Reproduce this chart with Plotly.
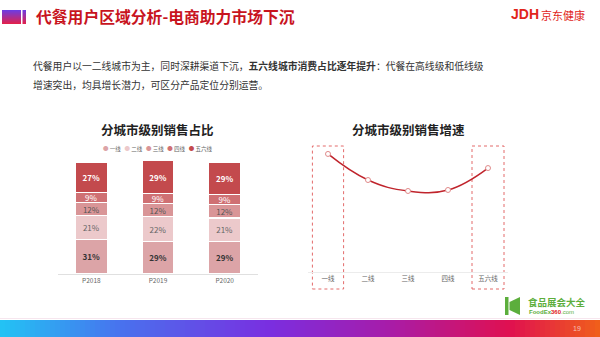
import plotly.graph_objects as go

W, H = 600, 337
FONT = "Noto Sans CJK SC"

# ---------------- data ----------------
years = ["P2018", "P2019", "P2020"]
tiers = ["一线", "二线", "三线", "四线", "五六线"]
share_tier1 = [31, 29, 29]
share_tier2 = [21, 22, 21]
share_tier3 = [12, 12, 12]
share_tier4 = [9, 9, 9]
share_tier56 = [27, 29, 29]
growth = [93.7, 73.0, 64.3, 65.1, 82.5]   # relative growth index (no axis shown)

share_series = [share_tier1, share_tier2, share_tier3, share_tier4, share_tier56]
bar_colors = ["#dca4a7", "#ecc9cb", "#d99597", "#cf7073", "#c34a4d"]
text_colors = ["#333333", "#666666", "#555555", "#ffffff", "#ffffff"]
text_bold = [True, False, False, False, True]


def px(x):
    return x / W


def py(y):
    return 1 - y / H


fig = go.Figure()

# ---------------- stacked bars ----------------
for name, vals, col, tc, b in zip(tiers, share_series, bar_colors, text_colors, text_bold):
    tmpl = "<b>%{y}%</b>" if b else "%{y}%"
    fig.add_trace(go.Bar(
        x=years, y=vals, name=name, marker=dict(color=col, line=dict(color="white", width=1.2)),
        width=0.48, texttemplate=tmpl, textposition="inside", insidetextanchor="middle",
        textangle=0, constraintext="none",
        textfont=dict(size=8, color=tc, family=FONT),
        xaxis="x", yaxis="y", showlegend=False, hoverinfo="skip"))

# connector lines between bars (cumulative tops)
cum = []
running = [0, 0, 0]
for vals in share_series:
    running = [r + v for r, v in zip(running, vals)]
    cum.append(list(running))
for level in cum:
    for i in range(len(years) - 1):
        fig.add_trace(go.Scatter(
            x=[i + 0.24, i + 1 - 0.24], y=[level[i], level[i + 1]], mode="lines",
            line=dict(color="#d0d0d0", width=0.8), xaxis="x", yaxis="y",
            showlegend=False, hoverinfo="skip"))

# ---------------- growth line ----------------
fig.add_trace(go.Scatter(
    x=tiers, y=growth, mode="lines+markers",
    line=dict(color="#c0242c", width=1.5, shape="spline", smoothing=1.2),
    marker=dict(size=5, color="white", line=dict(color="#e08a8a", width=1)),
    xaxis="x2", yaxis="y2", showlegend=False, hoverinfo="skip"))

shapes = []
annotations = []

# dashed highlight boxes on right chart
for c0, c1 in [(-0.39, 0.39), (3.6, 4.4)]:
    shapes.append(dict(type="rect", xref="x2", yref="paper", x0=c0, x1=c1,
                       y0=py(289), y1=py(146),
                       line=dict(color="#e36a6a", width=1, dash="dot"), layer="below"))

# title icon (vertical gradient square) + thin bar
n = 14
def lerp(c0, c1, t):
    return "#%02x%02x%02x" % tuple(int(round(a + (b - a) * t)) for a, b in zip(c0, c1))

top_c, bot_c = (0x6a, 0x3c, 0xe6), (0xe4, 0x20, 0x48)
for k in range(n):
    y0 = 10 + (24 - 10) * k / n
    y1 = 10 + (24 - 10) * (k + 1) / n
    col = lerp(top_c, bot_c, (k + 0.5) / n)
    shapes.append(dict(type="rect", xref="paper", yref="paper", x0=px(2), x1=px(21),
                       y0=py(y1), y1=py(y0), line=dict(width=0), fillcolor=col))
    shapes.append(dict(type="rect", xref="paper", yref="paper", x0=px(22.5), x1=px(26),
                       y0=py(y1), y1=py(y0), line=dict(width=0), fillcolor=col))

# bottom gradient band
stops = [(0.0, (0x22, 0xc4, 0xf4)), (0.2, (0x48, 0x72, 0xee)), (0.45, (0x7a, 0x2e, 0xe0)),
         (0.65, (0xa8, 0x1c, 0xa8)), (0.85, (0xe0, 0x10, 0x50)), (1.0, (0xf0, 0x60, 0x1a))]
def grad(t):
    for (t0, c0), (t1, c1) in zip(stops[:-1], stops[1:]):
        if t <= t1:
            return lerp(c0, c1, (t - t0) / (t1 - t0))
    return lerp(stops[-1][1], stops[-1][1], 0)

N = 120
for k in range(N):
    x0 = W * k / N
    x1 = W * (k + 1) / N + 0.6
    shapes.append(dict(type="rect", xref="paper", yref="paper", x0=px(x0), x1=px(min(x1, W)),
                       y0=0, y1=py(320), line=dict(width=0), fillcolor=grad((k + 0.5) / N)))

# faint line above band
shapes.append(dict(type="line", xref="paper", yref="paper", x0=0, x1=1, y0=py(318.5), y1=py(318.5),
                   line=dict(color="#f6e6ee", width=1)))

# foodex logo icon
shapes.append(dict(type="rect", xref="paper", yref="paper", x0=px(505), x1=px(508.5),
                   y0=py(315), y1=py(297), line=dict(width=0), fillcolor="#5cae3c"))
shapes.append(dict(type="path", xref="paper", yref="paper",
                   path=f"M {px(509.5)},{py(302)} L {px(520)},{py(297)} L {px(520)},{py(315)} L {px(509.5)},{py(310)} Z",
                   line=dict(width=0), fillcolor="#5cae3c"))

# ---------------- texts ----------------
annotations.append(dict(text="<b>代餐用户区域分析-电商助力市场下沉</b>", x=px(34), y=py(17),
                        xref="paper", yref="paper", xanchor="left", yanchor="middle", showarrow=False,
                        font=dict(family=FONT, size=15.8, color="#c8141e")))
annotations.append(dict(text="<b>JDH</b>", x=px(509), y=py(14), xref="paper", yref="paper",
                        xanchor="left", yanchor="middle", showarrow=False,
                        font=dict(family="Liberation Sans", size=14, color="#e1251b")))
annotations.append(dict(text="京东健康", x=px(539), y=py(15), xref="paper", yref="paper",
                        xanchor="left", yanchor="middle", showarrow=False,
                        font=dict(family=FONT, size=11, color="#e1251b")))
annotations.append(dict(text="代餐用户以一二线城市为主，同时深耕渠道下沉，<b>五六线城市消费占比逐年提升</b>：代餐在高线级和低线级",
                        x=px(31), y=py(66), xref="paper", yref="paper", xanchor="left", yanchor="middle",
                        showarrow=False, font=dict(family=FONT, size=9.8, color="#333333")))
annotations.append(dict(text="增速突出，均具增长潜力，可区分产品定位分别运营。",
                        x=px(31), y=py(85), xref="paper", yref="paper", xanchor="left", yanchor="middle",
                        showarrow=False, font=dict(family=FONT, size=9.8, color="#333333")))
annotations.append(dict(text="<b>分城市级别销售占比</b>", x=px(158), y=py(129), xref="paper", yref="paper",
                        xanchor="center", yanchor="middle", showarrow=False,
                        font=dict(family=FONT, size=12.5, color="#222222")))
annotations.append(dict(text="<b>分城市级别销售增速</b>", x=px(408), y=py(129), xref="paper", yref="paper",
                        xanchor="center", yanchor="middle", showarrow=False,
                        font=dict(family=FONT, size=12.5, color="#222222")))
legend_txt = "   ".join(f"<span style='color:{c}'>●</span> {t}" for t, c in zip(tiers, bar_colors))
annotations.append(dict(text=legend_txt, x=px(158), y=py(149), xref="paper", yref="paper",
                        xanchor="center", yanchor="middle", showarrow=False,
                        font=dict(family=FONT, size=5.5, color="#666666")))
annotations.append(dict(text="<b>食品展会大全</b>", x=px(526), y=py(302), xref="paper", yref="paper",
                        xanchor="left", yanchor="middle", showarrow=False,
                        font=dict(family=FONT, size=9.5, color="#5cae3c")))
annotations.append(dict(text="<b>FoodEx<span style='color:#e02020'>360</span></b>.com", x=px(527), y=py(312),
                        xref="paper", yref="paper", xanchor="left", yanchor="middle", showarrow=False,
                        font=dict(family="Liberation Sans", size=6, color="#5cae3c")))
annotations.append(dict(text="19", x=px(577), y=py(328.5), xref="paper", yref="paper",
                        xanchor="center", yanchor="middle", showarrow=False,
                        font=dict(family="Liberation Sans", size=7, color="rgba(255,255,255,0.65)")))

fig.update_layout(
    width=W, height=H, margin=dict(l=0, r=0, t=0, b=0),
    paper_bgcolor="white", plot_bgcolor="rgba(0,0,0,0)",
    barmode="stack", bargap=0.5,
    font=dict(family=FONT),
    xaxis=dict(domain=[px(58), px(258)], range=[-0.5, 2.5], showgrid=False, zeroline=False,
               showline=True, linecolor="#e0e0e0", linewidth=1, ticks="",
               tickfont=dict(size=6.5, color="#666666", family=FONT), fixedrange=True),
    yaxis=dict(domain=[py(274), py(274 - 102 * 1.12)], range=[0, 102], visible=False, fixedrange=True),
    xaxis2=dict(domain=[px(308), px(508)], range=[-0.5, 4.5], showgrid=False, zeroline=False,
                showline=True, linecolor="#ececec", linewidth=1, ticks="", anchor="y2",
                tickfont=dict(size=6.5, color="#666666", family=FONT), fixedrange=True),
    yaxis2=dict(domain=[py(272), py(146)], range=[0, 100], visible=False, anchor="x2", fixedrange=True),
    shapes=shapes, annotations=annotations,
)

fig.write_html("out.html")
